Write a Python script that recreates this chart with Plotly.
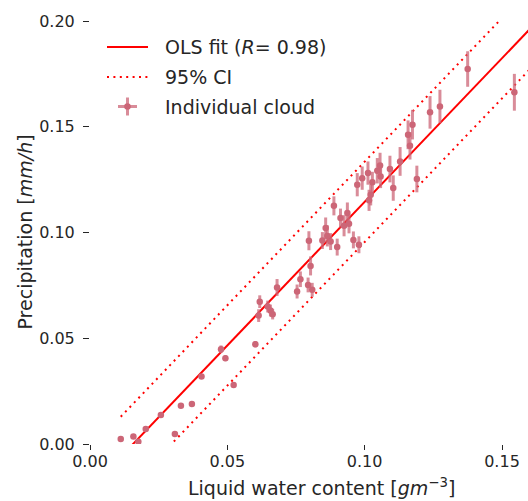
import plotly.graph_objects as go
import numpy as np

# ---- data ----
lwc = [0.0112, 0.0158, 0.0176, 0.0203, 0.0258, 0.0309, 0.0331, 0.0371, 0.0406, 0.0477,
       0.0493, 0.0523, 0.0602, 0.0614, 0.0618, 0.0647, 0.0657, 0.0665, 0.0681, 0.0754,
       0.0766, 0.0794, 0.0803, 0.0809, 0.0797, 0.0846, 0.0858, 0.0864, 0.0876, 0.0888,
       0.0900, 0.0912, 0.0925, 0.0937, 0.0943, 0.0959, 0.0979, 0.0973, 0.0991, 0.1012,
       0.1028, 0.1016, 0.1022, 0.1046, 0.1058, 0.1056, 0.1092, 0.1104, 0.1129, 0.1165,
       0.1158, 0.1174, 0.1190, 0.1238, 0.1274, 0.1375, 0.1545]
precip = [0.0024, 0.0035, 0.0011, 0.0071, 0.0137, 0.0047, 0.0181, 0.0189, 0.0319, 0.0448,
          0.0406, 0.0279, 0.0472, 0.0607, 0.0673, 0.0650, 0.0631, 0.0614, 0.0740, 0.0721,
          0.0779, 0.0752, 0.0842, 0.0729, 0.0961, 0.0962, 0.1021, 0.0984, 0.0957, 0.1126,
          0.0931, 0.1068, 0.1032, 0.1092, 0.1041, 0.0965, 0.0942, 0.1226, 0.1257, 0.1281,
          0.1237, 0.1152, 0.1178, 0.1292, 0.1265, 0.1317, 0.1300, 0.1210, 0.1336, 0.1410,
          0.1462, 0.1510, 0.1253, 0.1568, 0.1596, 0.1773, 0.1663]
precip_err = [0.0004, 0.0004, 0.0004, 0.0005, 0.0006, 0.0005, 0.0007, 0.0007, 0.0010, 0.0018,
              0.0014, 0.0010, 0.0015, 0.0030, 0.0030, 0.0028, 0.0028, 0.0025, 0.0040, 0.0033,
              0.0037, 0.0035, 0.0045, 0.0033, 0.0045, 0.0040, 0.0050, 0.0050, 0.0040, 0.0045,
              0.0040, 0.0045, 0.0050, 0.0050, 0.0045, 0.0040, 0.0040, 0.0055, 0.0055, 0.0055,
              0.0050, 0.0050, 0.0050, 0.0060, 0.0055, 0.0060, 0.0063, 0.0060, 0.0068, 0.0065,
              0.0068, 0.0070, 0.0063, 0.0077, 0.0079, 0.0084, 0.0087]

ols_slope = 1.358
ols_intercept = -0.0213
ci_halfwidth = 0.019
r_value = 0.98
fit_x_end = 0.17

x_ticks = [0.0, 0.05, 0.10, 0.15]
y_ticks = [0.0, 0.05, 0.10, 0.15, 0.20]

# ---- styles ----
FONT = "DejaVu Sans"
TXT = "#262626"
PT_COLOR = "#CC6677"
ERR_COLOR = "rgba(204,102,119,0.75)"
RED = "#FF0000"
DOT = "2px,4.4px"

W, H = 528, 501
L, R, T, B = 90, 0, 21, 57
PW, PH = W - L - R, H - T - B


def px(xp):
    return (xp - L) / PW


def py(yp):
    return (H - B - yp) / PH


fx = np.array([min(lwc), fit_x_end])
fy = ols_slope * fx + ols_intercept

fig = go.Figure()
fig.add_trace(go.Scatter(x=fx, y=fy, mode="lines", line=dict(color=RED, width=2),
                         showlegend=False))
fig.add_trace(go.Scatter(x=fx, y=fy + ci_halfwidth, mode="lines",
                         line=dict(color=RED, width=2, dash=DOT), showlegend=False))
fig.add_trace(go.Scatter(x=fx, y=fy - ci_halfwidth, mode="lines",
                         line=dict(color=RED, width=2, dash=DOT), showlegend=False))
fig.add_trace(go.Scatter(x=lwc, y=precip, mode="markers",
                         marker=dict(color=PT_COLOR, size=6.5, line=dict(width=0)),
                         error_y=dict(type="data", array=precip_err, visible=True,
                                      thickness=3, width=0, color=ERR_COLOR),
                         showlegend=False))

# ---- legend drawn by hand (matplotlib-style) ----
shapes = []
annotations = []
legend_rows = [47, 77, 106.5]
lx0, lx1, ltext = 107, 148, 163
shapes.append(dict(type="line", xref="paper", yref="paper", x0=px(lx0), x1=px(lx1),
                   y0=py(legend_rows[0]), y1=py(legend_rows[0]),
                   line=dict(color=RED, width=2)))
shapes.append(dict(type="line", xref="paper", yref="paper", x0=px(lx0), x1=px(lx1),
                   y0=py(legend_rows[1]), y1=py(legend_rows[1]),
                   line=dict(color=RED, width=2, dash=DOT)))
cx, cy = 127.5, legend_rows[2]
shapes.append(dict(type="line", xref="paper", yref="paper", x0=px(cx - 9.5), x1=px(cx + 9.5),
                   y0=py(cy), y1=py(cy), line=dict(color=ERR_COLOR, width=3)))
shapes.append(dict(type="line", xref="paper", yref="paper", x0=px(cx), x1=px(cx),
                   y0=py(cy - 9), y1=py(cy + 9), line=dict(color=ERR_COLOR, width=3)))
shapes.append(dict(type="circle", xref="paper", yref="paper", x0=px(cx - 3.3), x1=px(cx + 3.3),
                   y0=py(cy - 3.3), y1=py(cy + 3.3), fillcolor=PT_COLOR,
                   line=dict(width=0)))
labels = [f"OLS fit (<i>R</i>= {r_value:.2f})", "95% CI", "Individual cloud"]
for yrow, lab in zip(legend_rows, labels):
    annotations.append(dict(text=lab, xref="paper", yref="paper", x=px(ltext), y=py(yrow),
                            xanchor="left", yanchor="middle", showarrow=False,
                            font=dict(family=FONT, size=19, color=TXT)))

# axis titles
annotations.append(dict(text="Liquid water content [<i>gm</i><sup>−3</sup>]",
                        xref="paper", yref="paper", x=px(321), y=py(487),
                        xanchor="center", yanchor="middle", showarrow=False,
                        font=dict(family=FONT, size=19, color=TXT)))
annotations.append(dict(text="Precipitation [<i>mm/h</i>]",
                        xref="paper", yref="paper", x=px(24), y=0.5, textangle=-90,
                        xanchor="center", yanchor="middle", showarrow=False,
                        font=dict(family=FONT, size=19, color=TXT)))

fig.update_layout(
    width=W, height=H,
    margin=dict(l=L, r=R, t=T, b=B, pad=0),
    paper_bgcolor="white", plot_bgcolor="white",
    font=dict(family=FONT, size=16, color=TXT),
    shapes=shapes, annotations=annotations,
    showlegend=False,
)
fig.update_xaxes(range=[0, (W - L - R) / 2746.7], tickvals=x_ticks,
                 ticktext=[f"{v:.2f}" for v in x_ticks],
                 showgrid=False, zeroline=False, showline=False,
                 ticks="outside", ticklen=5, tickwidth=1.2, tickcolor=TXT,
                 ticklabelstandoff=-2,
                 tickfont=dict(family=FONT, size=16, color=TXT))
fig.update_yaxes(range=[0, 0.2], tickvals=y_ticks,
                 ticktext=[f"{v:.2f}" for v in y_ticks],
                 showgrid=False, zeroline=False, showline=False,
                 ticks="outside", ticklen=6, tickwidth=1.2, tickcolor=TXT,
                 ticklabelstandoff=5,
                 tickfont=dict(family=FONT, size=16, color=TXT))

fig.write_html("out.html")
